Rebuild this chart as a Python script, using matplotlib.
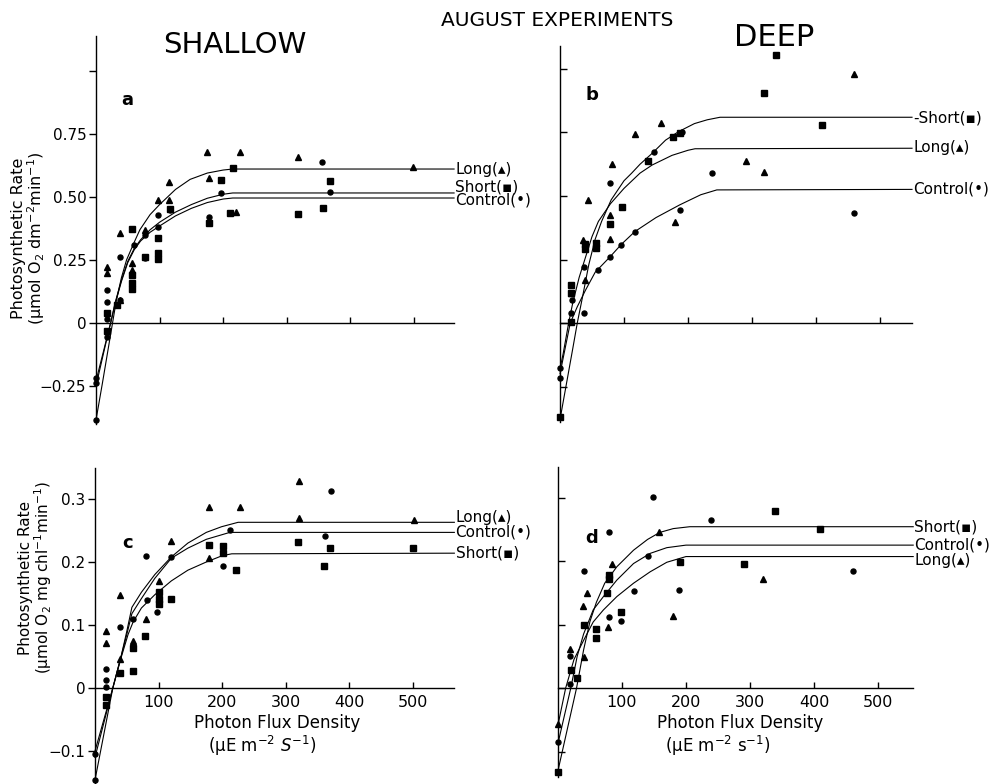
import matplotlib
matplotlib.use("Agg")
import matplotlib.pyplot as plt

plt.rcParams['font.family'] = ['DejaVu Sans']
plt.rcParams['mathtext.fontset'] = 'dejavusans'

# ---- panel a: shallow, per area ----
a_long_x = [17, 17, 37, 37, 57, 57, 77, 98, 115, 115, 175, 177, 220, 226, 318, 499]
a_long_y = [0.224, 0.197, 0.356, 0.09, 0.237, 0.21, 0.369, 0.488, 0.561, 0.488, 0.677, 0.574, 0.44, 0.677, 0.657, 0.62]
a_short_x = [17, 17, 33, 57, 57, 57, 57, 77, 98, 98, 98, 117, 178, 197, 210, 216, 318, 357, 368]
a_short_y = [0.04, -0.03, 0.07, 0.372, 0.19, 0.16, 0.134, 0.263, 0.336, 0.276, 0.253, 0.451, 0.396, 0.567, 0.435, 0.616, 0.431, 0.458, 0.565]
a_ctrl_x = [0, 0, 0, 17, 17, 17, 17, 38, 59, 77, 77, 98, 117, 178, 197, 356, 368, 98, 38]
a_ctrl_y = [-0.385, -0.24, -0.22, 0.131, 0.085, 0.015, -0.054, 0.263, 0.31, 0.257, 0.35, 0.429, 0.448, 0.422, 0.517, 0.64, 0.52, 0.38, 0.09]

a_long_fit_x = [0, 10, 20, 26, 32, 40, 48, 60, 69, 85, 100, 125, 148, 175, 200, 215, 563]
a_long_fit_y = [-0.385, -0.24, -0.09, 0.0, 0.09, 0.18, 0.25, 0.32, 0.37, 0.43, 0.47, 0.53, 0.57, 0.595, 0.607, 0.611, 0.611]
a_short_fit_x = [0, 10, 20, 23, 30, 40, 50, 60, 70, 85, 100, 125, 150, 175, 200, 215, 563]
a_short_fit_y = [-0.25, -0.14, -0.03, 0.0, 0.08, 0.17, 0.245, 0.295, 0.33, 0.37, 0.40, 0.44, 0.47, 0.495, 0.511, 0.516, 0.516]
a_ctrl_fit_x = [0, 10, 20, 23, 30, 40, 50, 60, 70, 85, 100, 125, 150, 175, 200, 215, 563]
a_ctrl_fit_y = [-0.23, -0.13, -0.03, 0.0, 0.075, 0.165, 0.24, 0.29, 0.325, 0.36, 0.385, 0.425, 0.455, 0.478, 0.492, 0.496, 0.496]

# ---- panel b: deep, per area ----
b_short_x = [0, 17, 17, 17, 39, 39, 57, 57, 78, 97, 138, 177, 188, 319, 338, 409]
b_short_y = [-0.37, 0.15, 0.12, 0.005, 0.31, 0.29, 0.314, 0.294, 0.39, 0.458, 0.639, 0.734, 0.749, 0.904, 1.055, 0.78]
b_long_x = [17, 36, 39, 43, 78, 78, 81, 117, 158, 179, 290, 319, 460]
b_long_y = [0.117, 0.327, 0.169, 0.484, 0.425, 0.329, 0.626, 0.743, 0.789, 0.399, 0.638, 0.593, 0.98]
b_ctrl_x = [0, 0, 18, 17, 37, 37, 59, 78, 78, 96, 117, 147, 188, 238, 460, 190]
b_ctrl_y = [-0.218, -0.178, 0.09, 0.038, 0.222, 0.038, 0.209, 0.261, 0.553, 0.307, 0.36, 0.675, 0.445, 0.592, 0.432, 0.75]

b_short_fit_x = [0, 10, 20, 27, 35, 45, 55, 65, 80, 100, 112, 125, 144, 165, 185, 210, 230, 250, 550]
b_short_fit_y = [-0.38, -0.24, -0.10, 0.0, 0.10, 0.23, 0.33, 0.40, 0.485, 0.56, 0.59, 0.625, 0.668, 0.72, 0.753, 0.785, 0.80, 0.81, 0.81]
b_long_fit_x = [0, 5, 13.5, 20, 30, 40, 50, 60, 79, 100, 125, 144, 175, 200, 211, 550]
b_long_fit_y = [-0.18, -0.12, 0.0, 0.08, 0.18, 0.26, 0.34, 0.40, 0.47, 0.53, 0.59, 0.622, 0.66, 0.68, 0.686, 0.688]
b_ctrl_fit_x = [0, 8, 16, 27, 40, 55, 78, 96, 117, 150, 187, 220, 245, 550]
b_ctrl_fit_y = [-0.20, -0.10, 0.0, 0.064, 0.13, 0.20, 0.26, 0.31, 0.36, 0.415, 0.465, 0.505, 0.524, 0.526]

# ---- panel c: shallow, per chlorophyll ----
c_long_x = [18, 18, 39, 39, 59, 80, 100, 120, 180, 180, 228, 321, 321, 502]
c_long_y = [0.091, 0.071, 0.148, 0.046, 0.075, 0.109, 0.17, 0.234, 0.287, 0.206, 0.287, 0.329, 0.27, 0.266]
c_ctrl_x = [0, 0, 18, 18, 18, 40, 59, 80, 81, 98, 120, 201, 212, 362, 371]
c_ctrl_y = [-0.146, -0.104, 0.03, 0.013, 0.002, 0.097, 0.11, 0.21, 0.14, 0.121, 0.208, 0.193, 0.251, 0.241, 0.312]
c_short_x = [18, 18, 39, 59, 59, 79, 100, 100, 100, 120, 180, 201, 201, 222, 319, 360, 370, 500]
c_short_y = [-0.014, -0.027, 0.024, 0.063, 0.027, 0.083, 0.153, 0.142, 0.134, 0.142, 0.227, 0.225, 0.215, 0.187, 0.232, 0.194, 0.223, 0.223]

c_long_fit_x = [0, 28, 41, 50, 58, 73, 94, 120, 146, 175, 199, 225, 565]
c_long_fit_y = [-0.146, 0.0, 0.05, 0.09, 0.128, 0.152, 0.18, 0.208, 0.23, 0.247, 0.256, 0.263, 0.263]
c_ctrl_fit_x = [0, 28, 41, 50, 58, 73, 94, 120, 146, 175, 212, 565]
c_ctrl_fit_y = [-0.11, 0.0, 0.05, 0.085, 0.118, 0.142, 0.174, 0.206, 0.222, 0.236, 0.247, 0.247]
c_short_fit_x = [0, 28, 41, 52, 60, 73, 94, 120, 146, 175, 200, 215, 565]
c_short_fit_y = [-0.10, 0.0, 0.048, 0.085, 0.105, 0.127, 0.148, 0.17, 0.187, 0.20, 0.21, 0.213, 0.214]

# ---- panel d: deep, per chlorophyll ----
d_ctrl_x = [0, 19, 19, 40, 80, 80, 98, 118, 140, 149, 189, 239, 461]
d_ctrl_y = [-0.085, 0.051, 0.006, 0.184, 0.245, 0.112, 0.105, 0.153, 0.208, 0.301, 0.154, 0.265, 0.184]
d_short_x = [0, 20, 29, 40, 59, 59, 76, 79, 79, 98, 191, 290, 339, 410]
d_short_y = [-0.132, 0.029, 0.015, 0.1, 0.093, 0.079, 0.15, 0.178, 0.171, 0.12, 0.198, 0.196, 0.279, 0.251]
d_long_x = [0, 19, 40, 39, 45, 78, 85, 158, 179, 320]
d_long_y = [-0.056, 0.062, 0.049, 0.129, 0.15, 0.096, 0.196, 0.246, 0.113, 0.171]

d_short_fit_x = [0, 29, 40, 50, 60, 73, 92, 118, 140, 159, 180, 206, 555]
d_short_fit_y = [-0.13, 0.0, 0.06, 0.105, 0.135, 0.165, 0.191, 0.217, 0.234, 0.245, 0.251, 0.254, 0.254]
d_ctrl_fit_x = [0, 20, 30, 40, 55, 71, 92, 118, 144, 170, 200, 555]
d_ctrl_fit_y = [-0.087, 0.0, 0.05, 0.085, 0.123, 0.144, 0.17, 0.196, 0.212, 0.221, 0.225, 0.225]
d_long_fit_x = [0, 12, 25, 40, 55, 71, 92, 118, 144, 170, 200, 555]
d_long_fit_y = [-0.058, 0.0, 0.045, 0.075, 0.104, 0.123, 0.144, 0.165, 0.183, 0.198, 0.207, 0.207]

xticks = [100, 200, 300, 400, 500]

W, H = 1004, 784
fig = plt.figure(figsize=(W / 100, H / 100), dpi=100)


def panel(ox, oy, sx, sy, xlim, ylim):
    # ox, oy: pixel of data origin, sx/sy: pixels per data unit
    left = ox + sx * xlim[0]
    right = ox + sx * xlim[1]
    top = oy - sy * ylim[1]
    bottom = oy - sy * ylim[0]
    ax = fig.add_axes([left / W, 1 - bottom / H, (right - left) / W, (bottom - top) / H])
    ax.set_xlim(xlim)
    ax.set_ylim(ylim)
    ax.patch.set_visible(False)
    for s in ['top', 'right']:
        ax.spines[s].set_visible(False)
    ax.spines['bottom'].set_position(('data', 0))
    ax.spines['left'].set_linewidth(1.0)
    ax.spines['bottom'].set_linewidth(1.0)
    ax.set_xticks(xticks)
    ax.tick_params(axis='x', direction='in', length=4, width=1, labelsize=11.5, pad=5)
    return ax


def draw(ax, fits, pts):
    for fx, fy in fits:
        ax.plot(fx, fy, color='black', lw=0.8, clip_on=False)
    for (px, py), m, ms in zip(pts, ['^', 's', 'o'], [4.5, 4, 3.6]):
        ax.plot(px, py, ls='none', marker=m, ms=ms, color='black', clip_on=False)


def curve_labels(ax, xend, labels, ys):
    for t, y in zip(labels, ys):
        ax.text(xend + 2, y, t, va='center', ha='left', fontsize=11, clip_on=False)


# a
ax = panel(96, 323, 0.636, 252, (0, 563), (-0.40, 1.14))
draw(ax, [(a_long_fit_x, a_long_fit_y), (a_short_fit_x, a_short_fit_y), (a_ctrl_fit_x, a_ctrl_fit_y)],
     [(a_long_x, a_long_y), (a_short_x, a_short_y), (a_ctrl_x, a_ctrl_y)])
ax.set_yticks([-0.25, 0, 0.25, 0.5, 0.75, 1.0])
ax.set_yticklabels(['−0.25', '0', '0.25', '0.50', '0.75', ''])
ax.tick_params(axis='y', direction='out', length=5, width=1, labelsize=11, pad=2)
ax.set_xticklabels([])
curve_labels(ax, 563, ['Long(▴)', 'Short(▪)', 'Control(•)'], [0.611, 0.54, 0.488])
ax.text(0.087, 0.835, 'a', transform=ax.transAxes, fontsize=13, fontweight='bold', ha='center', va='center')

# b
ax = panel(560, 323, 0.64, 254, (0, 550), (-0.39, 1.09))
draw(ax, [(b_short_fit_x, b_short_fit_y), (b_long_fit_x, b_long_fit_y), (b_ctrl_fit_x, b_ctrl_fit_y)],
     [(b_long_x, b_long_y), (b_short_x, b_short_y), (b_ctrl_x, b_ctrl_y)])
ax.set_yticks([-0.25, 0, 0.25, 0.5, 0.75, 1.0])
ax.set_yticklabels([])
ax.tick_params(axis='y', direction='in', length=5, width=1)
ax.set_xticklabels([])
curve_labels(ax, 550, ['-Short(▪)', 'Long(▴)', 'Control(•)'], [0.807, 0.689, 0.528])
ax.text(0.09, 0.87, 'b', transform=ax.transAxes, fontsize=13, fontweight='bold', ha='center', va='center')

# c
ax = panel(95, 688, 0.636, 630, (0, 565), (-0.15, 0.35))
draw(ax, [(c_long_fit_x, c_long_fit_y), (c_ctrl_fit_x, c_ctrl_fit_y), (c_short_fit_x, c_short_fit_y)],
     [(c_long_x, c_long_y), (c_short_x, c_short_y), (c_ctrl_x, c_ctrl_y)])
ax.set_yticks([-0.1, 0, 0.1, 0.2, 0.3])
ax.set_yticklabels(['−0.1', '0', '0.1', '0.2', '0.3'])
ax.tick_params(axis='y', direction='out', length=5, width=1, labelsize=11, pad=2)
ax.set_xticklabels([str(v) for v in xticks])
curve_labels(ax, 565, ['Long(▴)', 'Control(•)', 'Short(▪)'], [0.27, 0.248, 0.214])
ax.text(0.092, 0.76, 'c', transform=ax.transAxes, fontsize=13, fontweight='bold', ha='center', va='center')

# d
ax = panel(558, 688, 0.64, 635, (0, 555), (-0.14, 0.348))
draw(ax, [(d_short_fit_x, d_short_fit_y), (d_ctrl_fit_x, d_ctrl_fit_y), (d_long_fit_x, d_long_fit_y)],
     [(d_long_x, d_long_y), (d_short_x, d_short_y), (d_ctrl_x, d_ctrl_y)])
ax.set_yticks([-0.1, 0, 0.1, 0.2, 0.3])
ax.set_yticklabels([])
ax.tick_params(axis='y', direction='in', length=5, width=1)
ax.set_xticklabels([str(v) for v in xticks])
curve_labels(ax, 555, ['Short(▪)', 'Control(•)', 'Long(▴)'], [0.254, 0.225, 0.2])
ax.text(0.095, 0.77, 'd', transform=ax.transAxes, fontsize=13, fontweight='bold', ha='center', va='center')

# titles and axis labels (figure pixel coords)
def ftext(x, y, s, **kw):
    fig.text(x / W, 1 - y / H, s, **kw)

ftext(557, 20, 'AUGUST EXPERIMENTS', fontsize=14.5, ha='center', va='center')
ftext(235, 45, 'SHALLOW', fontsize=21, ha='center', va='center')
ftext(774, 37, 'DEEP', fontsize=22, ha='center', va='center')

ftext(29, 238, 'Photosynthetic Rate\n(μmol O$_2$ dm$^{-2}$min$^{-1}$)', fontsize=11.5, rotation=90,
      ha='center', va='center', multialignment='center', linespacing=1.0)
ftext(36, 578, 'Photosynthetic Rate\n(μmol O$_2$ mg chl$^{-1}$min$^{-1}$)', fontsize=11, rotation=90,
      ha='center', va='center', multialignment='center', linespacing=1.0)

ftext(277, 723, 'Photon Flux Density', fontsize=12, ha='center', va='center')
ftext(262, 746, '(μE m$^{-2}$ $S^{-1}$)', fontsize=12, ha='center', va='center')
ftext(740, 723, 'Photon Flux Density', fontsize=12, ha='center', va='center')
ftext(718, 746, '(μE m$^{-2}$ s$^{-1}$)', fontsize=12, ha='center', va='center')

fig.savefig('out.png', dpi=100)
